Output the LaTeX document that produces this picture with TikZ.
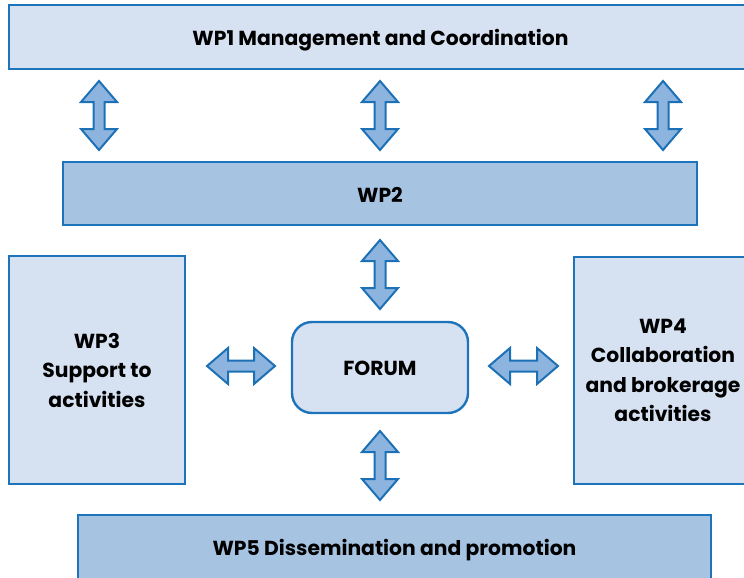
\documentclass[tikz,border=0pt]{standalone}
\usepackage{fontspec}
\setmainfont{Poppins}
\usetikzlibrary{calc}
\definecolor{lightfill}{HTML}{D6E1F2}
\definecolor{midfill}{HTML}{A7C3E2}
\definecolor{boxline}{HTML}{1E74BA}
\definecolor{arrfill}{HTML}{8CB4DE}
\definecolor{arrline}{HTML}{1C70B6}
\newcommand{\lowertxt}[2]{\raisebox{-#1}[\height][\depth]{#2}}
\tikzset{
  wpbox/.style={draw=boxline, line width=2.4pt, rectangle, inner sep=0pt,
    font=\fontsize{20.3}{29.5}\selectfont\bfseries, align=center},
  lightbox/.style={wpbox, fill=lightfill},
  midbox/.style={wpbox, fill=midfill},
  barrow/.style={draw=arrline, fill=arrfill, line width=2pt, line join=miter,
    to path={let \p1=($(\tikztotarget)-(\tikztostart)$),
      \n1={veclen(\x1,\y1)}, \n2={atan2(\y1,\x1)} in
      {[shift={(\tikztostart)}, rotate=\n2]
       (0,0) -- (21,18) -- (21,5.5) -- (\n1-21,5.5) -- (\n1-21,18) -- (\n1,0)
       -- (\n1-21,-18) -- (\n1-21,-5.5) -- (21,-5.5) -- (21,-18) -- cycle}}}
}
\begin{document}
\begin{tikzpicture}[x=1pt,y=-1pt]
\useasboundingbox (0,0) rectangle (744,578);
\clip (0,0) rectangle (744,578);
\node[lightbox, minimum width=743pt, minimum height=64pt] (wp1) at (380.5,37) {\lowertxt{3pt}{WP1 Management and Coordination}};
\node[midbox, minimum width=634pt, minimum height=63pt] (wp2) at (380,193.5) {\lowertxt{1pt}{WP2}};
\node[lightbox, minimum width=176pt, minimum height=228pt] (wp3) at (97,370) {WP3\\Support to\\activities};
\node[lightbox, minimum width=178pt, minimum height=227pt] (wp4) at (663,370.5) {WP4\\Collaboration\\and brokerage\\activities};
\node[lightbox, rounded corners=20pt, minimum width=176pt, minimum height=91pt] (forum) at (380,367.5) {\lowertxt{1pt}{FORUM}};
\node[midbox, minimum width=633pt, minimum height=66pt] (wp5) at (394.5,548) {\lowertxt{2pt}{WP5 Dissemination and promotion}};
% arrow end points
\coordinate (a1s) at (99,81);  \coordinate (a1e) at (99,150);
\coordinate (a2s) at (380,81); \coordinate (a2e) at (380,150);
\coordinate (a3s) at (663,81); \coordinate (a3e) at (663,150);
\coordinate (a4s) at (380,240); \coordinate (a4e) at (380,309);
\coordinate (a5s) at (380,431); \coordinate (a5e) at (380,500);
\coordinate (a6s) at (207,366); \coordinate (a6e) at (275,366);
\coordinate (a7s) at (489,366); \coordinate (a7e) at (558,366);
\foreach \i in {1,...,7} {\draw[barrow] (a\i s) to (a\i e);}
\end{tikzpicture}
\end{document}
